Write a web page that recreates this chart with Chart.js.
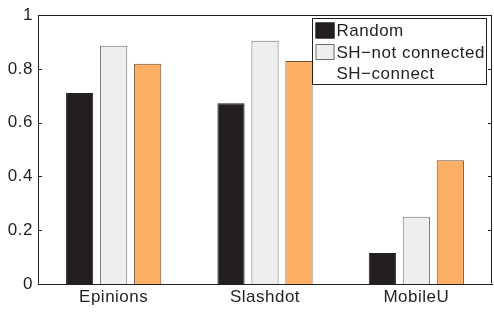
<!DOCTYPE html>
<html>
<head>
<meta charset="utf-8">
<script src="https://cdn.jsdelivr.net/npm/chart.js@4"></script>
<style>
html,body{margin:0;padding:0;background:#fff;}
#wrap{width:494px;height:317px;position:relative;}
</style>
</head>
<body>
<div id="wrap"><canvas id="c" width="494" height="317"></canvas></div>
<script>
const categories = ["Epinions", "Slashdot", "MobileU"];
const seriesNames = ["Random", "SH\u2212not connected", "SH\u2212connect"];
const randomValues = [0.711, 0.672, 0.115];
const shNotConnected = [0.886, 0.905, 0.250];
const shConnect = [0.819, 0.830, 0.460];
const yTickValues = [0, 0.2, 0.4, 0.6, 0.8, 1];
const yTickLabels = ["0", "0.2", "0.4", "0.6", "0.8", "1"];

const FONT = "'Liberation Sans', Arial, Helvetica, sans-serif";
const INK = "#231f20";

const spacingPlugin = {
  id: 'spacing',
  beforeDraw(chart) { chart.ctx.letterSpacing = '0.5px'; }
};

const boxPlugin = {
  id: 'box',
  afterDraw(chart) {
    const {ctx, chartArea: a, scales} = chart;
    ctx.save();
    ctx.strokeStyle = INK;
    ctx.lineWidth = 1;
    ctx.beginPath();
    ctx.moveTo(Math.round(a.left) + 0.5, Math.round(a.top) + 0.5);
    ctx.lineTo(Math.round(a.right) - 0.5, Math.round(a.top) + 0.5);
    ctx.lineTo(Math.round(a.right) - 0.5, Math.round(a.bottom) - 0.5);
    ctx.stroke();
    // inward ticks on y axis (left and right)
    const y = scales.y;
    y.ticks.forEach((t, i) => {
      const py = Math.round(y.getPixelForTick(i)) + 0.5;
      ctx.beginPath();
      ctx.moveTo(a.left, py); ctx.lineTo(a.left + 4, py);
      ctx.moveTo(a.right, py); ctx.lineTo(a.right - 4, py);
      ctx.stroke();
    });
    // legend
    const lx = 312.5, ly = 18.5, lw = 174, lh = 66;
    ctx.fillStyle = '#fff';
    ctx.fillRect(lx, ly, lw, lh);
    ctx.strokeRect(lx, ly, lw, lh);
    ctx.font = '17px ' + FONT;
    ctx.letterSpacing = '0.5px';
    ctx.textBaseline = 'middle';
    chart.data.datasets.forEach((ds, i) => {
      const cy = ly + 12 + i * 21.5;
      if (i < 2) {
        ctx.fillStyle = ds.backgroundColor;
        ctx.fillRect(lx + 3, cy - 8, 19, 16);
        ctx.strokeStyle = ds.borderColor;
        ctx.strokeRect(lx + 3.5, cy - 7.5, 18, 15);
      }
      ctx.fillStyle = INK;
      ctx.fillText(ds.label, lx + 24, cy + 1);
    });
    ctx.restore();
  }
};

new Chart(document.getElementById('c'), {
  type: 'bar',
  data: {
    labels: categories,
    datasets: [
      {label: seriesNames[0], data: randomValues, backgroundColor: '#231f20', borderColor: '#231f20', borderWidth: 1},
      {label: seriesNames[1], data: shNotConnected, backgroundColor: '#edefee', borderColor: '#6f6f6f', borderWidth: 1},
      {label: seriesNames[2], data: shConnect, backgroundColor: '#fcaf65', borderColor: '#6e5035', borderWidth: 1}
    ]
  },
  options: {
    responsive: false,
    animation: false,
    devicePixelRatio: 1,
    layout: {padding: {top: 15, right: 2, left: 0, bottom: 0}},
    plugins: {legend: {display: false}, tooltip: {enabled: false}},
    datasets: {bar: {categoryPercentage: 0.674, barPercentage: 0.8}},
    scales: {
      x: {
        grid: {display: false, drawTicks: false},
        border: {display: true, color: INK, width: 1},
        ticks: {color: INK, font: {family: FONT, size: 17}, padding: 3, maxRotation: 0},
        afterFit(s) { s.height = 33; }
      },
      y: {
        min: 0, max: 1,
        afterBuildTicks(s) { s.ticks = yTickValues.map(v => ({value: v})); },
        grid: {display: false, drawTicks: false},
        border: {display: true, color: INK, width: 1},
        ticks: {color: INK, font: {family: FONT, size: 17}, padding: 5,
          callback(v) { const i = yTickValues.indexOf(v); return i >= 0 ? yTickLabels[i] : ''; }},
        afterFit(s) { s.width = 38; }
      }
    }
  },
  plugins: [spacingPlugin, boxPlugin]
});
</script>
</body>
</html>
